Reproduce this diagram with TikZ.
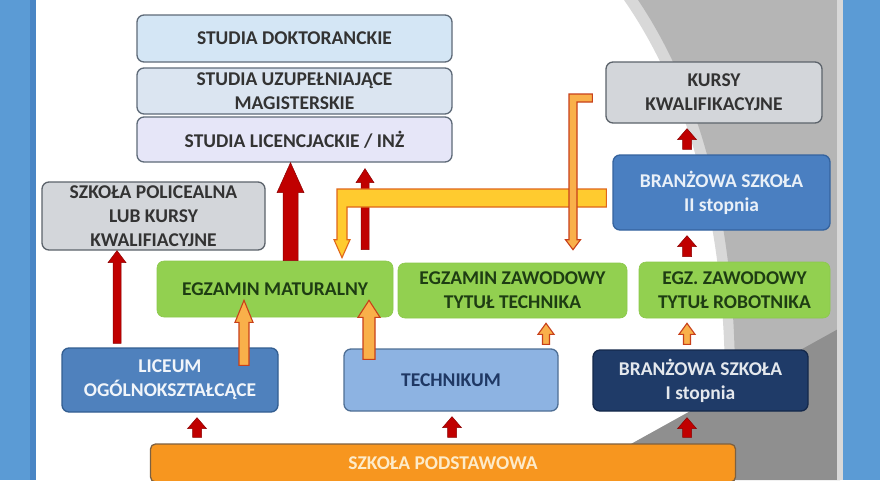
\documentclass[tikz,border=0pt]{standalone}
\usepackage{fontspec}
\setmainfont{Carlito}
\usetikzlibrary{calc}
\definecolor{stripblue}{HTML}{5B9BD5}
\definecolor{stripedge}{HTML}{4A86C5}
\definecolor{greymid}{HTML}{B5B5B5}
\definecolor{greylight}{HTML}{D8D8D8}
\definecolor{greydark}{HTML}{8F8F8F}
\definecolor{docfill}{HTML}{D4E6F5}
\definecolor{magfill}{HTML}{DBE5F1}
\definecolor{licfill}{HTML}{E6E6F8}
\definecolor{studborder}{HTML}{5E6A78}
\definecolor{kfill}{HTML}{D3D6DA}
\definecolor{kborder}{HTML}{5C636B}
\definecolor{txtgrey}{HTML}{333333}
\definecolor{greenfill}{HTML}{92D050}
\definecolor{greentext}{HTML}{1E3D13}
\definecolor{lycfill}{HTML}{4F81BD}
\definecolor{lycborder}{HTML}{335E91}
\definecolor{techfill}{HTML}{8DB3E2}
\definecolor{techborder}{HTML}{4F6F95}
\definecolor{techtext}{HTML}{1F3864}
\definecolor{bsIfill}{HTML}{1F3B68}
\definecolor{bsIborder}{HTML}{14284A}
\definecolor{bsIIfill}{HTML}{4A7FC1}
\definecolor{bsIIborder}{HTML}{35639E}
\definecolor{podfill}{HTML}{F7961F}
\definecolor{podborder}{HTML}{7D6040}
\definecolor{podtext}{HTML}{FDEBC9}
\definecolor{redfill}{HTML}{C00000}
\definecolor{reddraw}{HTML}{8B0000}
\definecolor{orfill}{HTML}{F9B04A}
\definecolor{ordraw}{HTML}{C8401A}
\definecolor{bandfill}{HTML}{FFCB2F}
\definecolor{banddraw}{HTML}{E0661A}
\newcommand\mytxt{\fontsize{19.5}{24}\selectfont\bfseries}
% block arrow: style, start, end, shaft half width, head half width, head length
\newcommand\blockarr[6]{%
  \path #2 coordinate (ba-s) #3 coordinate (ba-e);
  \path ($(ba-e)!#6!(ba-s)$) coordinate (ba-b);
  \filldraw[#1] ($(ba-s)!#4!90:(ba-e)$) -- ($(ba-b)!#4!-90:(ba-s)$) --
    ($(ba-b)!#5!-90:(ba-s)$) -- (ba-e) -- ($(ba-b)!#5!90:(ba-s)$) --
    ($(ba-b)!#4!90:(ba-s)$) -- ($(ba-s)!#4!-90:(ba-e)$) -- cycle;}
\begin{document}
\begin{tikzpicture}[x=1pt,y=-1pt,
  box/.style={rectangle,rounded corners=7pt,line width=1.3pt,align=center,
    inner sep=0pt,font=\mytxt},
  stud/.style={box,draw=studborder,text=txtgrey},
  grey/.style={box,draw=kborder,fill=kfill,text=txtgrey},
  green/.style={box,draw=greenfill!90!black!40!greenfill,fill=greenfill,text=greentext,line width=0.6pt},
  redarr/.style={fill=redfill,draw=reddraw,line width=0.5pt,line join=miter},
  orarr/.style={fill=orfill,draw=ordraw,line width=1.1pt,line join=miter},
  bandst/.style={fill=bandfill,draw=banddraw,line width=1.1pt,line join=miter},
  hookst/.style={fill=orfill,draw=ordraw,line width=1.1pt,line join=miter}]
\useasboundingbox (0,0) rectangle (880,480);
% background
\fill[white] (0,0) rectangle (880,480);
\fill[greylight] (624,0) .. controls (688,92) and (726,222) .. (725,394) -- (840,330) -- (840,0) -- cycle;
\fill[greymid] (638,0) .. controls (700,92) and (736,222) .. (735,388) -- (840,330) -- (840,0) -- cycle;
\fill[greydark] (840,328) -- (566,480) -- (840,480) -- cycle;
\fill[greylight] (837,0) rectangle (843,480);
\fill[stripblue] (0,0) rectangle (34,480);
\fill[stripedge] (30,0) rectangle (36,480);
\fill[stripblue] (843,0) rectangle (880,480);
% boxes
\node[stud,fill=docfill,minimum width=315pt,minimum height=47pt] (doc) at (294.5,38.5) {STUDIA DOKTORANCKIE};
\node[stud,fill=magfill,minimum width=315pt,minimum height=46pt] (mag) at (294.5,91) {STUDIA UZUPEŁNIAJĄCE\\MAGISTERSKIE};
\node[stud,fill=licfill,minimum width=315pt,minimum height=45pt] (lic) at (294.5,139.5) {STUDIA LICENCJACKIE / INŻ};
\node[grey,minimum width=216pt,minimum height=61pt] (kursy) at (714,92.5) {KURSY\\KWALIFIKACYJNE};
\node[box,draw=bsIIborder,fill=bsIIfill,text=white!88!bsIIfill,minimum width=217pt,minimum height=75pt] (bs2) at (721.5,192.5) {BRANŻOWA SZKOŁA\\II stopnia};
\node[grey,minimum width=223pt,minimum height=68pt] (polic) at (153.5,216) {SZKOŁA POLICEALNA\\LUB KURSY\\KWALIFIACYJNE};
\node[green,minimum width=236pt,minimum height=56pt] (matur) at (275,289) {EGZAMIN MATURALNY};
\node[green,minimum width=229pt,minimum height=55pt] (tech) at (512.5,290.5) {EGZAMIN ZAWODOWY\\TYTUŁ TECHNIKA};
\node[green,minimum width=191pt,minimum height=56pt] (rob) at (734.5,290) {EGZ. ZAWODOWY\\TYTUŁ ROBOTNIKA};
\node[box,draw=lycborder,fill=lycfill,text=white!92!lycfill,minimum width=216pt,minimum height=64pt] (lyc) at (170,380) {LICEUM\\OGÓLNOKSZTAŁCĄCE};
\node[box,draw=techborder,fill=techfill,text=techtext,minimum width=214pt,minimum height=62pt] (tkm) at (451,380) {TECHNIKUM};
\node[box,draw=bsIborder,fill=bsIfill,text=white!88!bsIfill,minimum width=215pt,minimum height=61pt] (bs1) at (700.5,380.5) {BRANŻOWA SZKOŁA\\I stopnia};
\node[box,draw=podborder,fill=podfill,text=podtext,minimum width=585pt,minimum height=38pt,rounded corners=5pt] (pod) at (443,463) {SZKOŁA PODSTAWOWA};
% red arrows
\blockarr{redarr}{($(lyc.north)+(-53,-4)$)}{($(polic.south)+(-36.5,0)$)}{4pt}{9pt}{12pt}
\blockarr{redarr}{($(matur.north)+(15.5,0)$)}{($(lic.south)+(-4,0)$)}{7.5pt}{13.5pt}{30pt}
\blockarr{redarr}{($(matur.north)+(90,-11)$)}{($(lic.south)+(70.5,6)$)}{4pt}{9pt}{14pt}
\blockarr{redarr}{($(rob.north)+(-47.5,-5)$)}{($(bs2.south)+(-34.5,5)$)}{4.5pt}{9.5pt}{11pt}
\blockarr{redarr}{($(bs2.north)+(-34.5,-5)$)}{($(kursy.south)+(-27,5)$)}{4.5pt}{9.5pt}{11pt}
\blockarr{redarr}{($(pod.north)+(-246,-6)$)}{($(lyc.south)+(27,5)$)}{4.5pt}{9.5pt}{11pt}
\blockarr{redarr}{($(pod.north)+(9,-6)$)}{($(tkm.south)+(1,5)$)}{4.5pt}{9.5pt}{11pt}
\blockarr{redarr}{($(pod.north)+(244,-6)$)}{($(bs1.south)+(-13.5,6)$)}{4.5pt}{9.5pt}{11pt}
% orange arrows
\blockarr{orarr}{($(lyc.north)+(74,18)$)}{($(matur.south)+(-31,-17)$)}{5pt}{9pt}{22pt}
\blockarr{orarr}{($(tkm.north)+(-82,11)$)}{($(matur.south)+(94,-17)$)}{6pt}{11pt}{17pt}
\blockarr{orarr}{($(tkm.north)+(95,-4)$)}{($(tech.south)+(33.5,5)$)}{3.5pt}{8pt}{11pt}
\blockarr{orarr}{($(bs1.north)+(-13.5,-5)$)}{($(rob.south)+(-47.5,5)$)}{3.5pt}{8pt}{11pt}
% band from BS II to matura
\coordinate (bandTR) at ($(bs2.west)+(-6,-3.5)$);
\coordinate (bandBR) at ($(bs2.west)+(-6,14.5)$);
\coordinate (dropTip) at ($(matur.north)+(67,-3)$);
\filldraw[bandst] let \p1=(bandTR), \p2=(bandBR), \p3=(dropTip) in
  (\p1) -- (\x3-5pt,\y1) -- (\x3-5pt,\y3+18pt) -- (\x3-8pt,\y3+18pt) -- (\p3) --
  (\x3+8pt,\y3+18pt) -- (\x3+5pt,\y3+18pt) -- (\x3+5pt,\y2) -- (\p2) -- cycle;
% hook arrow to technician exam
\coordinate (hookTR) at ($(kursy.west)+(-13,1.5)$);
\coordinate (hookBR) at ($(kursy.west)+(-13,9.5)$);
\coordinate (hookTip) at ($(tech.north)+(60.5,-13)$);
\filldraw[hookst] let \p1=(hookTR), \p2=(hookBR), \p3=(hookTip) in
  (\p1) -- (\x3-4pt,\y1) -- (\x3-4pt,\y3+10pt) -- (\x3-7.5pt,\y3+10pt) -- (\p3) --
  (\x3+7.5pt,\y3+10pt) -- (\x3+4pt,\y3+10pt) -- (\x3+4pt,\y2) -- (\p2) -- cycle;
\end{tikzpicture}
\end{document}
